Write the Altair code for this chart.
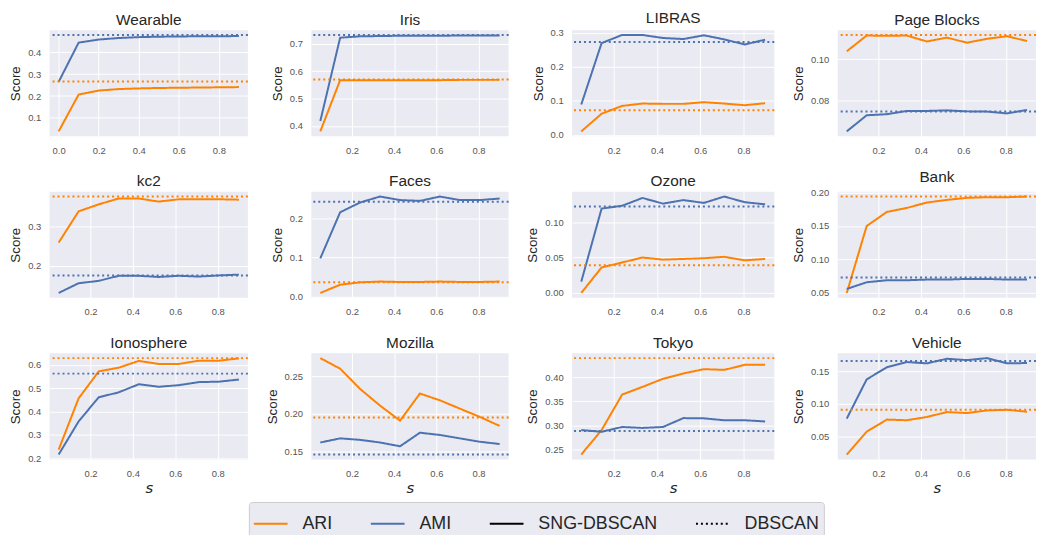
import altair as alt
import pandas as pd

FONT = "Liberation Sans, Arial, sans-serif"
ORANGE = "#ff8200"
BLUE = "#4c72b0"
LEGEND_ITEMS = ["ARI", "AMI", "SNG-DBSCAN", "DBSCAN"]

NAMES = ["Wearable", "Iris", "LIBRAS", "Page Blocks",
         "kc2", "Faces", "Ozone", "Bank",
         "Ionosphere", "Mozilla", "Tokyo", "Vehicle"]

S_STD = [0.05, 0.144, 0.239, 0.333, 0.428, 0.522, 0.617, 0.711, 0.806, 0.9]
S_WEAR = [0.0, 0.1, 0.2, 0.3, 0.4, 0.5, 0.6, 0.7, 0.8, 0.9]

ARI = {
    "Wearable":    [0.038, 0.207, 0.225, 0.232, 0.235, 0.237, 0.238, 0.239, 0.240, 0.241],
    "Iris":        [0.380, 0.567, 0.567, 0.567, 0.567, 0.567, 0.567, 0.568, 0.568, 0.568],
    "LIBRAS":      [0.010, 0.062, 0.085, 0.092, 0.091, 0.091, 0.096, 0.092, 0.087, 0.093],
    "Page Blocks": [0.1039, 0.1116, 0.1115, 0.1116, 0.1087, 0.1106, 0.1081, 0.1100, 0.1113, 0.1089],
    "kc2":         [0.259, 0.339, 0.357, 0.372, 0.372, 0.364, 0.370, 0.370, 0.370, 0.369],
    "Faces":       [0.010, 0.031, 0.037, 0.039, 0.038, 0.038, 0.039, 0.038, 0.038, 0.039],
    "Ozone":       [0.000, 0.036, 0.043, 0.050, 0.047, 0.048, 0.049, 0.051, 0.046, 0.048],
    "Bank":        [0.050, 0.150, 0.171, 0.177, 0.185, 0.189, 0.192, 0.193, 0.193, 0.194],
    "Ionosphere":  [0.236, 0.456, 0.572, 0.588, 0.617, 0.604, 0.604, 0.618, 0.618, 0.628],
    "Mozilla":     [0.274, 0.260, 0.233, 0.211, 0.191, 0.227, 0.218, 0.207, 0.196, 0.184],
    "Tokyo":       [0.239, 0.290, 0.364, 0.380, 0.397, 0.408, 0.417, 0.4155, 0.426, 0.426],
    "Vehicle":     [0.0225, 0.0575, 0.076, 0.075, 0.080, 0.0875, 0.086, 0.090, 0.091, 0.088],
}

AMI = {
    "Wearable":    [0.265, 0.445, 0.459, 0.466, 0.470, 0.472, 0.473, 0.474, 0.474, 0.475],
    "Iris":        [0.418, 0.722, 0.727, 0.728, 0.729, 0.729, 0.729, 0.730, 0.730, 0.730],
    "LIBRAS":      [0.089, 0.270, 0.294, 0.294, 0.285, 0.282, 0.293, 0.281, 0.266, 0.280],
    "Page Blocks": [0.0647, 0.0726, 0.0731, 0.0747, 0.0747, 0.0750, 0.0745, 0.0744, 0.0735, 0.0752],
    "kc2":         [0.130, 0.155, 0.161, 0.174, 0.174, 0.171, 0.174, 0.172, 0.175, 0.177],
    "Faces":       [0.098, 0.215, 0.240, 0.255, 0.246, 0.244, 0.255, 0.246, 0.246, 0.250],
    "Ozone":       [0.016, 0.119, 0.123, 0.134, 0.126, 0.131, 0.127, 0.136, 0.128, 0.125],
    "Bank":        [0.056, 0.066, 0.069, 0.069, 0.070, 0.070, 0.071, 0.071, 0.070, 0.070],
    "Ionosphere":  [0.215, 0.357, 0.461, 0.482, 0.517, 0.506, 0.513, 0.526, 0.528, 0.537],
    "Mozilla":     [0.162, 0.1675, 0.1655, 0.162, 0.157, 0.175, 0.172, 0.1675, 0.163, 0.160],
    "Tokyo":       [0.290, 0.2865, 0.2965, 0.2945, 0.2965, 0.315, 0.3145, 0.3105, 0.3105, 0.308],
    "Vehicle":     [0.0775, 0.1375, 0.156, 0.164, 0.162, 0.169, 0.167, 0.170, 0.162, 0.1625],
}

DBSCAN_ARI = {"Wearable": 0.267, "Iris": 0.569, "LIBRAS": 0.072, "Page Blocks": 0.1119,
              "kc2": 0.377, "Faces": 0.037, "Ozone": 0.039, "Bank": 0.194,
              "Ionosphere": 0.629, "Mozilla": 0.1953, "Tokyo": 0.440, "Vehicle": 0.091}
DBSCAN_AMI = {"Wearable": 0.480, "Iris": 0.732, "LIBRAS": 0.273, "Page Blocks": 0.0744,
              "kc2": 0.175, "Faces": 0.242, "Ozone": 0.122, "Bank": 0.073,
              "Ionosphere": 0.5625, "Mozilla": 0.146, "Tokyo": 0.288, "Vehicle": 0.1655}

Y_TICKS = {
    "Wearable": [0.1, 0.2, 0.3, 0.4], "Iris": [0.4, 0.5, 0.6, 0.7],
    "LIBRAS": [0.0, 0.1, 0.2, 0.3], "Page Blocks": [0.08, 0.10],
    "kc2": [0.2, 0.3], "Faces": [0.0, 0.1, 0.2],
    "Ozone": [0.0, 0.05, 0.10], "Bank": [0.05, 0.10, 0.15, 0.20],
    "Ionosphere": [0.2, 0.3, 0.4, 0.5, 0.6], "Mozilla": [0.15, 0.20, 0.25],
    "Tokyo": [0.25, 0.30, 0.35, 0.40], "Vehicle": [0.05, 0.10, 0.15],
}
Y_FMT = {"Wearable": ".1f", "Iris": ".1f", "LIBRAS": ".1f", "Page Blocks": ".2f",
         "kc2": ".1f", "Faces": ".1f", "Ozone": ".2f", "Bank": ".2f",
         "Ionosphere": ".1f", "Mozilla": ".2f", "Tokyo": ".2f", "Vehicle": ".2f"}

X_TICKS_WEAR = [0.0, 0.2, 0.4, 0.6, 0.8]
X_TICKS_STD = [0.2, 0.4, 0.6, 0.8]

COL_WIDTHS = [200, 199, 204, 200]
H = 107

legend = alt.Legend(
    title=None, orient="none", legendX=201, legendY=476, direction="horizontal",
    symbolType="stroke", symbolSize=1156, symbolStrokeWidth=2,
    labelFont=FONT, labelFontSize=18, labelColor="#262626",
    fillColor="#EAEAF2", strokeColor="#cccccc", padding=4,
    columnPadding=34, labelOffset=14, cornerRadius=3,
)
color = dict(scale=alt.Scale(domain=LEGEND_ITEMS, range=[ORANGE, BLUE, "black", "black"]),
             legend=legend)
dash = dict(scale=alt.Scale(domain=LEGEND_ITEMS, range=[[1, 0], [1, 0], [1, 0], [2, 3]]),
            legend=legend)


def panel(i, name):
    xs = S_WEAR if name == "Wearable" else S_STD
    rows = []
    for s, a in zip(xs, ARI[name]):
        rows.append({"s": s, "score": a, "metric": "ARI", "method": "SNG-DBSCAN"})
    for s, a in zip(xs, AMI[name]):
        rows.append({"s": s, "score": a, "metric": "AMI", "method": "SNG-DBSCAN"})
    df = pd.DataFrame(rows)
    db = pd.DataFrame([
        {"score": DBSCAN_ARI[name], "metric": "ARI", "method": "DBSCAN"},
        {"score": DBSCAN_AMI[name], "metric": "AMI", "method": "DBSCAN"},
    ])
    vals = ARI[name] + AMI[name] + [DBSCAN_ARI[name], DBSCAN_AMI[name]]
    lo, hi = min(vals), max(vals)
    pad = 0.05 * (hi - lo)
    xdom = [-0.045, 0.945] if name == "Wearable" else [0.0075, 0.9425]
    bottom = i >= 8
    xaxis_kw = dict(values=X_TICKS_WEAR if name == "Wearable" else X_TICKS_STD,
                    format=".1f", labelFlush=False)
    if bottom:
        xaxis_kw.update(title="s", titleFont="DejaVu Sans", titleFontStyle="italic",
                        titleFontSize=15, titleFontWeight="normal", titlePadding=3)
    else:
        xaxis_kw.update(title=None)
    y = alt.Y("score:Q",
              scale=alt.Scale(domain=[lo - pad, hi + pad], nice=False, zero=False),
              axis=alt.Axis(values=Y_TICKS[name], format=Y_FMT[name], title="Score",
                            labelFlush=False))
    lines = alt.Chart(df).mark_line(strokeWidth=2).encode(
        x=alt.X("s:Q", scale=alt.Scale(domain=xdom, nice=False, zero=False),
                axis=alt.Axis(**xaxis_kw)),
        y=y,
        color=alt.Color("metric:N", **color),
        strokeDash=alt.StrokeDash("method:N", **dash),
    )
    rules = alt.Chart(db).mark_rule(strokeWidth=2).encode(
        y=y,
        color=alt.Color("metric:N", **color),
        strokeDash=alt.StrokeDash("method:N", **dash),
    )
    return alt.layer(lines, rules).properties(
        width=COL_WIDTHS[i % 4], height=H,
        title=alt.TitleParams(name, fontSize=15.5, font=FONT, fontWeight="normal",
                              color="#262626", offset=2, anchor="middle"),
    )


panels = [panel(i, n) for i, n in enumerate(NAMES)]

chart = alt.concat(
    *panels, columns=4, spacing={"row": 56, "column": 64}, bounds="flush"
).resolve_scale(
    x="independent", y="independent", color="shared", strokeDash="shared"
).resolve_legend(
    color="shared", strokeDash="shared"
).properties(
    padding={"left": 0, "top": 0, "right": 0, "bottom": 0},
    background="white",
).configure_view(
    fill="#EAEAF2", strokeWidth=0
).configure_axis(
    domain=False, ticks=False, grid=True, gridColor="white", gridWidth=1,
    labelFont=FONT, labelFontSize=9.5, labelColor="#555555", labelPadding=9,
    titleFont=FONT, titleFontSize=13.5, titleFontWeight="normal", titleColor="#262626",
).configure_axisY(
    titlePadding=5
)

chart.save("out.html", embed_options={"renderer": "svg", "actions": False})
